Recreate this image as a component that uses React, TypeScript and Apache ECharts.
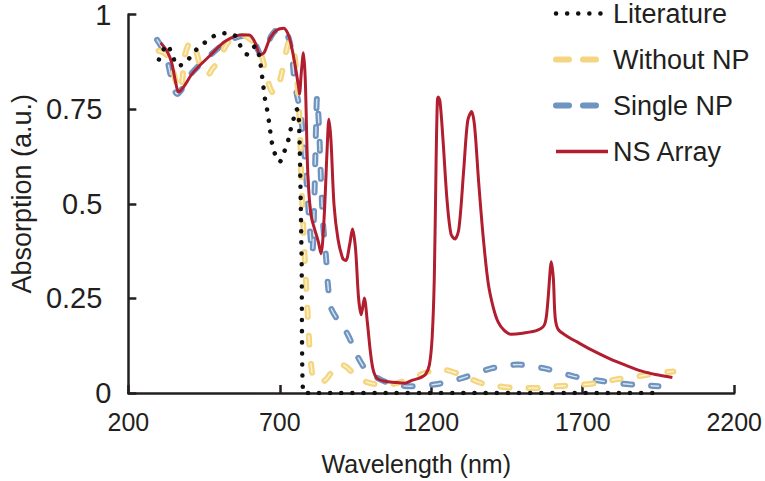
import React, { useEffect, useRef } from "react";
import * as echarts from "echarts";

// ---- data (wavelength in nm, absorption in a.u.) ----
const xTicks = [200, 700, 1200, 1700, 2200];
const yTicks = [0, 0.25, 0.5, 0.75, 1];

const literatureNm = [301, 327, 346, 359, 382, 408, 430, 460, 489, 528, 554, 570, 593, 619, 632, 642, 651, 658, 664, 674, 684, 700, 716, 729, 736, 745, 755, 762, 767, 772, 778, 1963];
const literatureAbs = [0.881, 0.92, 0.894, 0.865, 0.868, 0.891, 0.912, 0.93, 0.946, 0.951, 0.943, 0.917, 0.894, 0.917, 0.891, 0.834, 0.777, 0.749, 0.718, 0.661, 0.632, 0.611, 0.64, 0.671, 0.697, 0.723, 0.751, 0.738, 0.6, 0.35, 0, 0];

const withoutNpNm = [300, 317, 333, 349, 362, 372, 379, 385, 398, 411, 421, 434, 447, 463, 479, 499, 518, 538, 560, 586, 609, 625, 642, 655, 668, 681, 694, 707, 720, 733, 742, 752, 762, 768, 771, 778, 784, 791, 797, 804, 810, 830, 853, 875, 895, 918, 940, 966, 999, 1047, 1096, 1151, 1194, 1236, 1285, 1324, 1366, 1421, 1486, 1558, 1616, 1681, 1746, 1811, 1882, 1940, 1999];
const withoutNpAbs = [0.904, 0.899, 0.886, 0.847, 0.808, 0.80, 0.834, 0.886, 0.92, 0.93, 0.912, 0.873, 0.847, 0.842, 0.858, 0.878, 0.912, 0.935, 0.946, 0.943, 0.93, 0.92, 0.886, 0.842, 0.806, 0.79, 0.808, 0.847, 0.899, 0.93, 0.92, 0.873, 0.769, 0.666, 0.562, 0.433, 0.329, 0.225, 0.135, 0.07, 0.044, 0.026, 0.036, 0.06, 0.078, 0.07, 0.054, 0.036, 0.026, 0.021, 0.028, 0.044, 0.057, 0.062, 0.052, 0.039, 0.026, 0.018, 0.013, 0.013, 0.018, 0.021, 0.026, 0.036, 0.044, 0.052, 0.057];

const singleNpNm = [295, 311, 330, 345, 361, 374, 406, 461, 521, 577, 603, 622, 638, 655, 674, 700, 716, 729, 739, 749, 758, 768, 778, 788, 797, 807, 814, 820, 823, 830, 836, 843, 853, 859, 869, 892, 924, 957, 989, 1031, 1074, 1129, 1216, 1301, 1398, 1486, 1574, 1671, 1768, 1853, 1950];
const singleNpAbs = [0.933, 0.912, 0.873, 0.821, 0.79, 0.80, 0.842, 0.886, 0.925, 0.943, 0.943, 0.917, 0.894, 0.912, 0.946, 0.964, 0.959, 0.938, 0.899, 0.821, 0.782, 0.744, 0.666, 0.562, 0.459, 0.368, 0.51, 0.718, 0.782, 0.692, 0.562, 0.446, 0.355, 0.285, 0.225, 0.192, 0.155, 0.096, 0.057, 0.036, 0.023, 0.018, 0.023, 0.039, 0.065, 0.075, 0.065, 0.044, 0.031, 0.023, 0.018];

const nsArrayNm = [307, 327, 343, 356, 366, 382, 414, 469, 521, 577, 599, 619, 635, 648, 668, 690, 713, 726, 736, 749, 762, 765, 771, 778, 784, 790, 794, 804, 827, 836, 846, 856, 862, 869, 879, 892, 908, 918, 931, 940, 950, 960, 969, 979, 989, 999, 1008, 1021, 1047, 1080, 1112, 1138, 1161, 1181, 1194, 1203, 1210, 1216, 1220, 1223, 1229, 1239, 1252, 1265, 1278, 1291, 1307, 1320, 1333, 1343, 1356, 1372, 1388, 1405, 1421, 1440, 1463, 1502, 1551, 1574, 1583, 1593, 1596, 1603, 1609, 1619, 1648, 1681, 1729, 1788, 1843, 1898, 1940, 1996];
const nsArrayAbs = [0.925, 0.904, 0.873, 0.821, 0.795, 0.808, 0.847, 0.891, 0.93, 0.946, 0.946, 0.925, 0.894, 0.899, 0.938, 0.959, 0.964, 0.951, 0.925, 0.873, 0.808, 0.79, 0.847, 0.899, 0.83, 0.64, 0.554, 0.466, 0.4, 0.368, 0.459, 0.64, 0.723, 0.666, 0.497, 0.407, 0.355, 0.35, 0.394, 0.433, 0.381, 0.251, 0.207, 0.251, 0.187, 0.109, 0.062, 0.039, 0.031, 0.028, 0.026, 0.034, 0.039, 0.049, 0.075, 0.148, 0.303, 0.614, 0.769, 0.782, 0.769, 0.666, 0.51, 0.42, 0.407, 0.433, 0.588, 0.718, 0.744, 0.705, 0.562, 0.407, 0.29, 0.225, 0.187, 0.166, 0.155, 0.158, 0.166, 0.181, 0.225, 0.329, 0.347, 0.303, 0.2, 0.168, 0.15, 0.135, 0.114, 0.091, 0.073, 0.057, 0.049, 0.041];

const zip = (xs: number[], ys: number[]) => xs.map((x, i) => [x, ys[i]]);

const INK = "#231F20";
const FONT = "'Liberation Sans', Arial, sans-serif";
const YELLOW = "#F5D680";
const YELLOW_IN = "#FDF3D2";
const BLUE = "#6F94BF";
const BLUE_IN = "#D9E4F1";
const RED = "#B11E2F";
const DOT = "#111111";
const DASH = [9, 19];

export default function App() {
  const ref = useRef<HTMLDivElement>(null);
  useEffect(() => {
    if (!ref.current) return;
    const chart = echarts.init(ref.current, null, { renderer: "svg" });
    const axisLine = { show: true, lineStyle: { color: INK, width: 2.5 } };
    const axisTick = { show: true, inside: true, length: 8, lineStyle: { color: INK, width: 2.5 } };
    const dashed = (name: string, nm: number[], ab: number[], color: string, inner: string, z: number) => [
      {
        name,
        type: "line",
        data: zip(nm, ab),
        showSymbol: false,
        symbol: "none",
        smooth: 0.3,
        z,
        color,
        lineStyle: { color, width: 6, type: DASH, cap: "round" },
      },
      {
        name: name + " ",
        type: "line",
        data: zip(nm, ab),
        showSymbol: false,
        symbol: "none",
        smooth: 0.3,
        z: z + 0.5,
        silent: true,
        color: inner,
        lineStyle: { color: inner, width: 1.4, type: DASH, cap: "round" },
      },
    ];
    chart.setOption({
      animation: false,
      backgroundColor: "#ffffff",
      grid: { left: 124, right: 25, top: 11, bottom: 84, containLabel: false },
      legend: {
        orient: "vertical",
        left: 553,
        top: 0,
        padding: 0,
        itemWidth: 52,
        itemHeight: 28,
        itemGap: 19,
        itemStyle: { opacity: 0, color: "rgba(0,0,0,0)", borderWidth: 0 },
        data: [
          { name: "Literature", lineStyle: { color: DOT, width: 4.5, type: [0.1, 11], cap: "round" } },
          { name: "Without NP", lineStyle: { color: YELLOW, width: 6, type: [13, 14], cap: "round" } },
          { name: "Single NP", lineStyle: { color: BLUE, width: 6, type: [13, 14], cap: "round" } },
          { name: "NS Array", lineStyle: { color: RED, width: 3.5, type: "solid" } },
        ],
        textStyle: { fontSize: 27, color: INK, fontFamily: FONT },
      },
      xAxis: {
        type: "value",
        min: xTicks[0],
        max: xTicks[xTicks.length - 1],
        interval: 500,
        name: "Wavelength (nm)",
        nameLocation: "middle",
        nameGap: 58,
        nameTextStyle: { fontSize: 25, color: INK, fontFamily: FONT, padding: [0, 30, 0, 0] },
        axisLine,
        axisTick,
        splitLine: { show: false },
        axisLabel: { fontSize: 25, color: INK, fontFamily: FONT, margin: 16, formatter: (v: number) => String(v) },
      },
      yAxis: {
        type: "value",
        min: yTicks[0],
        max: yTicks[yTicks.length - 1],
        interval: 0.25,
        name: "Absorption (a.u.)",
        nameLocation: "middle",
        nameGap: 92,
        nameTextStyle: { fontSize: 27, color: INK, fontFamily: FONT, padding: [0, 0, 0, 20] },
        axisLine,
        axisTick,
        splitLine: { show: false },
        axisLabel: {
          fontSize: 29,
          color: INK,
          fontFamily: FONT,
          margin: 17,
          formatter: (v: number) => (v === 0 || v === 1 ? String(v) : `{p|${v}}`),
          rich: { p: { fontSize: 29, color: INK, fontFamily: FONT, padding: [0, 9, 0, 0] } },
        },
      },
      series: [
        ...dashed("Single NP", singleNpNm, singleNpAbs, BLUE, BLUE_IN, 2),
        ...dashed("Without NP", withoutNpNm, withoutNpAbs, YELLOW, YELLOW_IN, 3),
        {
          name: "NS Array",
          type: "line",
          data: zip(nsArrayNm, nsArrayAbs),
          showSymbol: false,
          symbol: "none",
          smooth: 0.3,
          z: 4,
          color: RED,
          lineStyle: { color: RED, width: 3 },
        },
        {
          name: "Literature",
          type: "line",
          data: zip(literatureNm, literatureAbs),
          showSymbol: false,
          symbol: "none",
          smooth: 0.2,
          z: 5,
          color: DOT,
          lineStyle: { color: DOT, width: 4.5, type: [0.1, 11], cap: "round" },
        },
      ],
    });
    return () => chart.dispose();
  }, []);
  return <div ref={ref} style={{ position: "fixed", left: 0, top: 0, width: 765, height: 481 }} />;
}
